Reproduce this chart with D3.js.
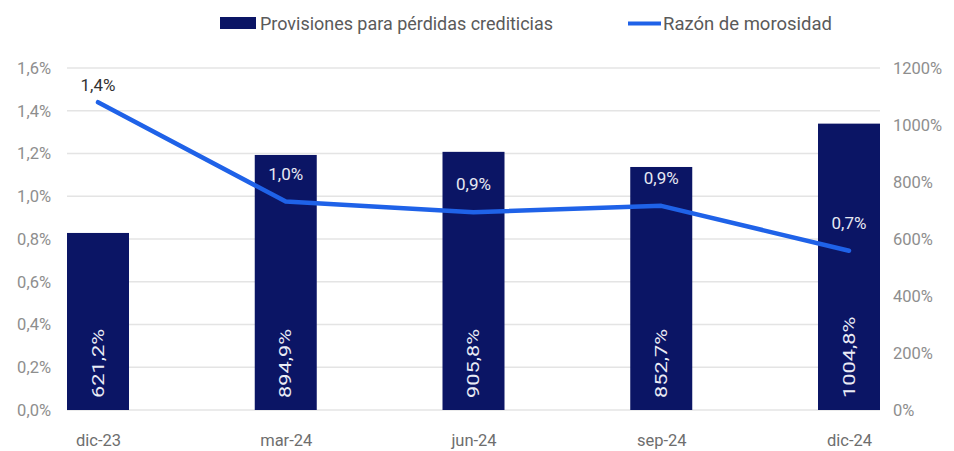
<!DOCTYPE html>
<html><head><meta charset="utf-8">
<script src="https://cdn.jsdelivr.net/npm/d3@7"></script>
<style>body{margin:0;background:#fff;font-family:Roboto,"Liberation Sans",sans-serif}</style>
</head><body><svg id="c" width="954" height="451"></svg>
<script>
const categories = ["dic-23","mar-24","jun-24","sep-24","dic-24"];
const provisiones = [621.2, 894.9, 905.8, 852.7, 1004.8];
const provLabels = ["621,2%","894,9%","905,8%","852,7%","1004,8%"];
const morosidad = [1.44, 0.975, 0.925, 0.955, 0.745];
const morLabels = ["1,4%","1,0%","0,9%","0,9%","0,7%"];
const leftTicks = [0,0.2,0.4,0.6,0.8,1.0,1.2,1.4,1.6];
const leftTickLabels = ["0,0%","0,2%","0,4%","0,6%","0,8%","1,0%","1,2%","1,4%","1,6%"];
const rightTicks = [0,200,400,600,800,1000,1200];
const rightTickLabels = ["0%","200%","400%","600%","800%","1000%","1200%"];
const legendLabels = ["Provisiones para pérdidas crediticias","Razón de morosidad"];

(function(){
const svg = d3.select("#c");
const plotTop = 68, plotBottom = 410, barW = 62;
const x = d3.scalePoint().domain(categories).range([98, 849]);
const yL = d3.scaleLinear().domain([0,1.6]).range([plotBottom, plotTop]);
const yR = d3.scaleLinear().domain([0,1200]).range([plotBottom, plotTop]);
const barColor = "#0b1565", lineColor = "#1f62e8";
const x0 = x(categories[0]) - barW/2, x1 = x(categories[categories.length-1]) + barW/2;

// grid
svg.append("g").selectAll("line").data(leftTicks).join("line")
  .attr("x1", x0).attr("x2", x1)
  .attr("y1", d => yL(d)).attr("y2", d => yL(d))
  .attr("stroke", "#e4e4e4").attr("stroke-width", 1.5);

// left axis
const gL = svg.append("g").attr("transform", "translate(55,0)")
  .call(d3.axisLeft(yL).tickValues(leftTicks).tickSize(0).tickPadding(4)
    .tickFormat((d,i) => leftTickLabels[i]));
gL.select(".domain").remove();
gL.selectAll("text").attr("font-family","Roboto").attr("font-size",16.5).attr("fill","#8e8e8e");

// right axis
const gR = svg.append("g").attr("transform", "translate(889,0)")
  .call(d3.axisRight(yR).tickValues(rightTicks).tickSize(0).tickPadding(4)
    .tickFormat((d,i) => rightTickLabels[i]));
gR.select(".domain").remove();
gR.selectAll("text").attr("font-family","Roboto").attr("font-size",16.5).attr("fill","#8e8e8e");

// x axis
const gX = svg.append("g").attr("transform", `translate(0,${plotBottom})`)
  .call(d3.axisBottom(x).tickSize(0).tickPadding(24));
gX.select(".domain").remove();
gX.selectAll("text").attr("font-family","Roboto").attr("font-size",16.5).attr("fill","#6e6e6e");

// bars
svg.append("g").selectAll("rect").data(provisiones).join("rect")
  .attr("x", (d,i) => x(categories[i]) - barW/2)
  .attr("width", barW)
  .attr("y", d => yR(d))
  .attr("height", d => plotBottom - yR(d))
  .attr("fill", barColor);

// bar labels
svg.append("g").selectAll("text").data(provLabels).join("text")
  .attr("transform", (d,i) => `translate(${x(categories[i])},${plotBottom-12}) rotate(-90) scale(1.28,1)`)
  .attr("text-anchor","start").attr("dominant-baseline","central")
  .attr("font-family","Roboto").attr("font-size",17).attr("fill","#e9ebf5")
  .text(d => d);

// line
const line = d3.line().x((d,i) => x(categories[i])).y(d => yL(d));
svg.append("path").datum(morosidad).attr("d", line)
  .attr("fill","none").attr("stroke", lineColor).attr("stroke-width", 4.5)
  .attr("stroke-linejoin","round").attr("stroke-linecap","round");

// line labels
svg.append("g").selectAll("text").data(morLabels).join("text")
  .attr("x", (d,i) => x(categories[i]))
  .attr("y", (d,i) => yL(morosidad[i]) - (i === 0 ? 11 : 22))
  .attr("text-anchor","middle")
  .attr("font-family","Roboto").attr("font-size",17)
  .attr("fill", (d,i) => i === 0 ? "#333333" : "#e6e8f2")
  .text(d => d);

// legend
const lg = svg.append("g");
lg.append("rect").attr("x",220).attr("y",17).attr("width",36).attr("height",12).attr("fill",barColor);
lg.append("text").attr("x",260).attr("y",30).attr("textLength",293).attr("lengthAdjust","spacingAndGlyphs")
  .attr("font-family","Roboto").attr("font-size",18).attr("fill","#5a5a5a").text(legendLabels[0]);
lg.append("line").attr("x1",628).attr("x2",661).attr("y1",23.5).attr("y2",23.5)
  .attr("stroke",lineColor).attr("stroke-width",4);
lg.append("text").attr("x",663).attr("y",30).attr("textLength",169).attr("lengthAdjust","spacingAndGlyphs")
  .attr("font-family","Roboto").attr("font-size",18).attr("fill","#5a5a5a").text(legendLabels[1]);
})();
</script></body></html>
